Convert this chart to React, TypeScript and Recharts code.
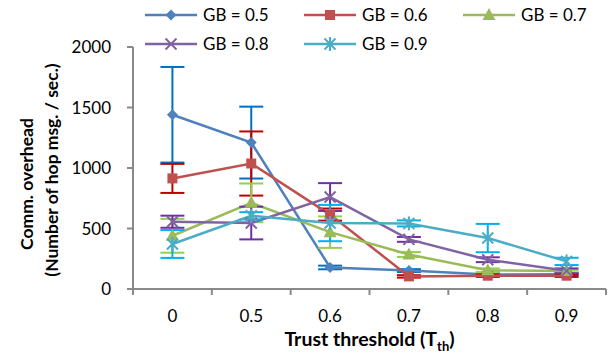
import React from 'react';
import { LineChart, Line, XAxis, YAxis, ErrorBar, Legend } from 'recharts';

const categories = ['0', '0.5', '0.6', '0.7', '0.8', '0.9'];
const gb05 = [1440, 1210, 178, 152, 120, 122];
const err05 = [395, 297, 15, 12, 10, 10];
const gb06 = [914, 1037, 615, 104, 110, 110];
const err06 = [120, 265, 50, 10, 10, 10];
const gb07 = [440, 712, 470, 285, 155, 148];
const err07 = [140, 160, 130, 20, 15, 10];
const gb08 = [556, 545, 760, 410, 242, 150];
const err08 = [50, 135, 115, 20, 20, 20];
const gb09 = [372, 605, 545, 542, 421, 228];
const err09 = [115, 30, 150, 25, 117, 30];
const yTicks = [0, 500, 1000, 1500, 2000];
const seriesNames = ['GB = 0.5', 'GB = 0.6', 'GB = 0.7', 'GB = 0.8', 'GB = 0.9'];

const FONT = 'Lato, "Open Sans", sans-serif';
const AXIS = '#898989';
const TICK_SIZE = 6;
const TICK_MARGIN = 2;

const series = [
  { key: 'gb05', errKey: 'e05', name: seriesNames[0], values: gb05, errors: err05, color: '#4F81BD', errColor: '#0070C0', marker: 'diamond' },
  { key: 'gb06', errKey: 'e06', name: seriesNames[1], values: gb06, errors: err06, color: '#C0504D', errColor: '#C00000', marker: 'square' },
  { key: 'gb07', errKey: 'e07', name: seriesNames[2], values: gb07, errors: err07, color: '#9BBB59', errColor: '#92D050', marker: 'triangle' },
  { key: 'gb08', errKey: 'e08', name: seriesNames[3], values: gb08, errors: err08, color: '#8064A2', errColor: '#7030A0', marker: 'x' },
  { key: 'gb09', errKey: 'e09', name: seriesNames[4], values: gb09, errors: err09, color: '#4BACC6', errColor: '#00B0F0', marker: 'star' },
];

const data = categories.map((t, i) => {
  const row: any = { t };
  series.forEach((s) => {
    row[s.key] = s.values[i];
    row[s.errKey] = s.errors[i];
  });
  return row;
});

function Marker({ type, cx, cy, color }: { type: string; cx: number; cy: number; color: string }) {
  if (cx == null || cy == null || isNaN(cx) || isNaN(cy)) return <g />;
  switch (type) {
    case 'diamond':
      return <polygon points={`${cx},${cy - 5.5} ${cx + 5.5},${cy} ${cx},${cy + 5.5} ${cx - 5.5},${cy}`} fill={color} />;
    case 'square':
      return <rect x={cx - 5} y={cy - 5} width={10} height={10} fill={color} />;
    case 'triangle':
      return <polygon points={`${cx},${cy - 7} ${cx + 6.5},${cy + 5} ${cx - 6.5},${cy + 5}`} fill={color} />;
    case 'x':
      return (
        <g stroke={color} strokeWidth={2}>
          <line x1={cx - 5.5} y1={cy - 5.5} x2={cx + 5.5} y2={cy + 5.5} />
          <line x1={cx - 5.5} y1={cy + 5.5} x2={cx + 5.5} y2={cy - 5.5} />
        </g>
      );
    default:
      return (
        <g stroke={color} strokeWidth={2}>
          <line x1={cx - 5.5} y1={cy - 5.5} x2={cx + 5.5} y2={cy + 5.5} />
          <line x1={cx - 5.5} y1={cy + 5.5} x2={cx + 5.5} y2={cy - 5.5} />
          <line x1={cx} y1={cy - 7} x2={cx} y2={cy + 7} />
        </g>
      );
  }
}

function XTick(props: any) {
  const { x, y, payload, index, visibleTicksCount, width } = props;
  const axisY = y - TICK_SIZE - TICK_MARGIN;
  const off =
    payload && payload.offset ? payload.offset : width && visibleTicksCount ? width / visibleTicksCount / 2 : 0;
  return (
    <g>
      <line x1={x - off} x2={x - off} y1={axisY} y2={axisY + 6} stroke={AXIS} strokeWidth={2} />
      {index === visibleTicksCount - 1 && (
        <line x1={x + off} x2={x + off} y1={axisY} y2={axisY + 6} stroke={AXIS} strokeWidth={2} />
      )}
      <text x={x} y={axisY + 33} textAnchor="middle" fill="#000" fontSize={17} fontFamily={FONT}>
        {payload.value}
      </text>
    </g>
  );
}

function YLabel(props: any) {
  const vb = props.viewBox || { x: 0, y: 0, width: 0, height: 0 };
  const cy = vb.y + vb.height / 2;
  return (
    <g fontFamily={FONT} fontWeight="bold" fontSize={17.5} fill="#000">
      <text transform={`translate(${vb.x + 33}, ${cy + 16}) rotate(-90)`} textAnchor="middle">
        Comm. overhead
      </text>
      <text transform={`translate(${vb.x + 58}, ${cy + 2}) rotate(-90)`} textAnchor="middle">
        (Number of hop msg. / sec.)
      </text>
    </g>
  );
}

function XLabel(props: any) {
  const vb = props.viewBox || { x: 0, y: 0, width: 0, height: 0 };
  const cx = vb.x + vb.width / 2;
  return (
    <text x={cx} y={vb.y + 57} textAnchor="middle" fontFamily={FONT} fontWeight="bold" fontSize={19.5} fill="#000">
      Trust threshold (T<tspan fontSize={13} dy={5}>th</tspan>
      <tspan dy={-5}>)</tspan>
    </text>
  );
}

function LegendContent() {
  return (
    <svg width={615} height={60} style={{ display: 'block' }}>
      {series.map((s, i) => {
        const col = i % 3;
        const row = Math.floor(i / 3);
        const x0 = 145 + col * 159;
        const y = 15 + row * 29;
        return (
          <g key={s.key}>
            <line x1={x0} x2={x0 + 52} y1={y} y2={y} stroke={s.color} strokeWidth={2.5} />
            <Marker type={s.marker} cx={x0 + 26} cy={y} color={s.color} />
            <text x={x0 + 58} y={y + 6} fontFamily={FONT} fontSize={17} fill="#000">
              {s.name}
            </text>
          </g>
        );
      })}
    </svg>
  );
}

export default function App() {
  return (
    <div style={{ position: 'absolute', left: 0, top: 0, width: 615, height: 356, background: '#fff' }}>
      <LineChart width={615} height={356} data={data} margin={{ top: 47, right: 9, bottom: 0, left: 0 }}>
        <XAxis
          dataKey="t"
          scale="band"
          height={67}
          tickLine={false}
          tickSize={TICK_SIZE}
          tickMargin={TICK_MARGIN}
          axisLine={{ stroke: AXIS, strokeWidth: 2 }}
          tick={<XTick />}
          interval={0}
          label={<XLabel />}
        />
        <YAxis
          width={133}
          domain={[0, 2000]}
          ticks={yTicks}
          interval={0}
          tickSize={6}
          tickMargin={16}
          tickLine={{ stroke: AXIS, strokeWidth: 2 }}
          axisLine={{ stroke: AXIS, strokeWidth: 2 }}
          tick={{ fill: '#000', fontSize: 17, fontFamily: FONT }}
          label={<YLabel />}
        />
        <Legend
          layout="horizontal"
          verticalAlign="middle"
          align="center"
          content={<LegendContent />}
          wrapperStyle={{ top: 0, left: 0, width: 615, height: 60 }}
        />
        {series.map((s) => (
          <Line
            key={s.key}
            dataKey={s.key}
            name={s.name}
            stroke={s.color}
            strokeWidth={2.5}
            isAnimationActive={false}
            activeDot={false}
            dot={(p: any) => <Marker key={`${s.key}-${p.index}`} type={s.marker} cx={p.cx} cy={p.cy} color={s.color} />}
          >
            <ErrorBar dataKey={s.errKey} direction="y" width={12} strokeWidth={2} stroke={s.errColor} isAnimationActive={false} />
          </Line>
        ))}
      </LineChart>
    </div>
  );
}
